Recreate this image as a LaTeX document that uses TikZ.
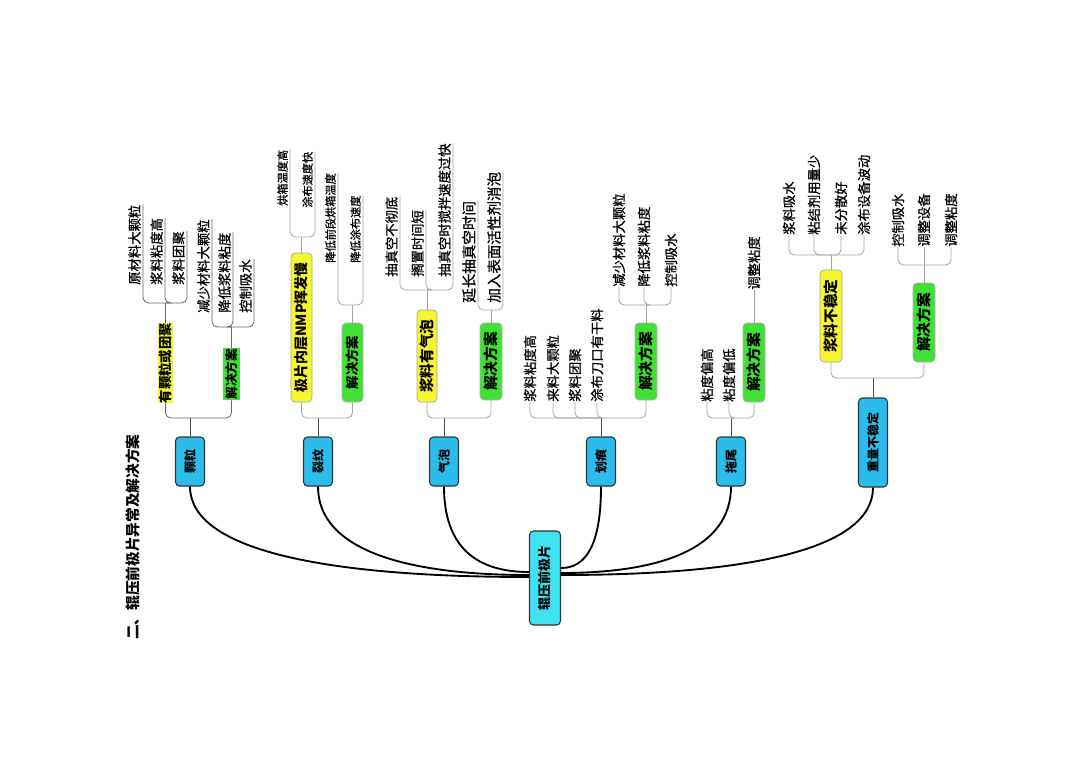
\documentclass[tikz,border=0pt]{standalone}
\usepackage{fontspec}
\setmainfont{Noto Sans CJK SC}
\newfontfamily\leaffont[FakeBold=0.8]{Noto Sans CJK SC}
\usepackage{graphicx}
\newcommand\vtxt[1]{\rotatebox{90}{#1}}
\definecolor{rootc}{RGB}{62,226,242}
\definecolor{catc}{RGB}{44,188,236}
\definecolor{yelc}{RGB}{246,246,48}
\definecolor{grnc}{RGB}{64,224,52}
\begin{document}
\begin{tikzpicture}[x=0.75pt,y=-0.75pt,
  sz/.style 2 args={minimum width=#1*0.75pt, minimum height=#2*0.75pt},
  rootbox/.style={draw=black!80, line width=0.8pt, fill=rootc, rounded corners=3pt, inner sep=0pt, font=\bfseries\fontsize{9.75}{10}\selectfont},
  catbox/.style={draw=black!80, line width=0.8pt, fill=catc, rounded corners=3pt, inner sep=0pt, font=\bfseries\fontsize{9}{10}\selectfont},
  ybox/.style={draw=black!35, line width=0.5pt, fill=yelc, rounded corners=3pt, inner sep=0pt, font=\bfseries\fontsize{11}{12}\selectfont},
  gbox/.style={draw=black!30, line width=0.5pt, fill=grnc, rounded corners=3pt, inner sep=0pt, font=\bfseries\fontsize{11}{12}\selectfont},
  yhl/.style={fill=yelc, inner sep=0pt, font=\bfseries\fontsize{10}{11}\selectfont},
  ghl/.style={fill=grnc, inner sep=0pt, font=\bfseries\fontsize{9.5}{11}\selectfont},
  leaf/.style={inner sep=0pt, font=\leaffont\fontsize{10}{12}\selectfont},
  title/.style={inner sep=0pt, font=\bfseries\fontsize{11}{12}\selectfont},
  main/.style={line width=1.4pt, black},
  stem/.style={line width=0.7pt, black!70},
  br/.style={line width=0.6pt, black!35, rounded corners=4pt},
  brd/.style={line width=0.6pt, black!60, rounded corners=4pt}]
\fill[white] (0,0) rectangle (1080,764);
\useasboundingbox (0,0) rectangle (1080,764);

% title
\node[title] (title) at (133,537) {\vtxt{二、辊压前极片异常及解决方案}};

% root and categories
\node[rootbox, sz={31}{94}] (root) at (545,578) {\vtxt{辊压前极片}};
\node[catbox, sz={29}{49}] (k1) at (190,461.5) {\vtxt{颗粒}};
\node[catbox, sz={29}{49}] (k2) at (318,461.5) {\vtxt{裂纹}};
\node[catbox, sz={29}{49}] (k3) at (444,461.5) {\vtxt{气泡}};
\node[catbox, sz={29}{49}] (k4) at (601,461.5) {\vtxt{划痕}};
\node[catbox, sz={29}{49}] (k5) at (731,461.5) {\vtxt{拖尾}};
\node[catbox, sz={29}{89}] (k6) at (873,442.5) {\vtxt{重量不稳定}};

\draw[main] (k1.south) .. controls +(0,64) and +(-203,0) .. ([yshift=0.75pt]root.west);
\draw[main] (k2.south) .. controls +(0,62) and +(-127,0) .. ([yshift=2.25pt]root.west);
\draw[main] (k3.south) .. controls +(0,62) and +(-51,0) .. ([yshift=4.5pt]root.west);
\draw[main] (k4.south) .. controls +(0,60) and +(24,0) .. ([yshift=7.5pt]root.east);
\draw[main] (k5.south) .. controls +(0,61) and +(102,0) .. ([yshift=3.75pt]root.east);
\draw[main] (k6.south) .. controls +(0,62) and +(187,0) .. ([yshift=2.25pt]root.east);

% second level boxes
\node[yhl, sz={15}{80}] (y1) at (165.5,363) {\vtxt{有颗粒或团聚}};
\node[ghl, sz={17}{52}] (g1) at (231.5,374) {\vtxt{解决方案}};
\node[ybox, sz={21}{149}, font=\bfseries\fontsize{10.5}{12}\selectfont] (y2) at (301.5,327.5) {\vtxt{极片内层NMP挥发慢}};
\node[gbox, sz={21}{79}, font=\bfseries\fontsize{10}{12}\selectfont] (g2) at (352.5,362.5) {\vtxt{解决方案}};
\node[ybox, sz={20}{92}] (y3) at (427,356) {\vtxt{浆料有气泡}};
\node[gbox, sz={22}{77}] (g3) at (491,361.5) {\vtxt{解决方案}};
\node[gbox, sz={22}{77}] (g4) at (646,361.5) {\vtxt{解决方案}};
\node[gbox, sz={22}{79}] (g5) at (754,362.5) {\vtxt{解决方案}};
\node[ybox, sz={22}{92}] (y6) at (831,316) {\vtxt{浆料不稳定}};
\node[gbox, sz={22}{79}] (g6) at (924,322.5) {\vtxt{解决方案}};

% junctions
\coordinate (j1) at (190,418);
\coordinate (j2) at (318,418);
\coordinate (j3) at (444,418);
\coordinate (j4) at (601,418);
\coordinate (j5) at (731,418);
\coordinate (j6) at (873,378);
\coordinate (jy1) at (165.5,303);
\coordinate (jg1) at (231.5,327);
\coordinate (jy2) at (301.5,237);
\coordinate (jg2) at (352.5,305);
\coordinate (jy3) at (427,290);
\coordinate (jg3) at (491,310);
\coordinate (jg4) at (646,305);
\coordinate (jy6) at (831,255);
\coordinate (jg6) at (924,265);

\draw[stem] (k1.north) -- (j1);
\draw[stem] (k2.north) -- (j2);
\draw[stem] (k3.north) -- (j3);
\draw[stem] (k4.north) -- (j4);
\draw[stem] (k5.north) -- (j5);
\draw[stem] (k6.north) -- (j6);

\draw[brd] (j1) -| (y1.south);
\draw[brd] (j1) -| (g1.south);
\draw[br] (j2) -| (y2.south);
\draw[br] (j2) -| (g2.south);
\draw[br] (j3) -| (y3.south);
\draw[br] (j3) -| (g3.south);
\draw[br] (j5) -| (g5.south);
\draw[br] (j6) -| (y6.south);
\draw[br] (j6) -| (g6.south);
\draw[br] (j4) -| (g4.south);

% group 1 leaves
\node[leaf, anchor=south east] (a1) at (141,285) {\vtxt{原材料大颗粒}};
\node[leaf, anchor=south east] (a2) at (163,285) {\vtxt{浆料粘度高}};
\node[leaf, anchor=south east] (a3) at (185,285) {\vtxt{浆料团聚}};
\draw[brd] (y1.north) -- (jy1);
\draw[brd] (jy1) -| ([xshift=1.5pt]a1.north east);
\draw[brd] (jy1) -| ([xshift=1.5pt]a2.north east);
\draw[brd] (jy1) -| ([xshift=1.5pt]a3.north east);
\node[leaf, anchor=south east] (b1) at (210,313) {\vtxt{减少材料大颗粒}};
\node[leaf, anchor=south east] (b2) at (231,313) {\vtxt{降低浆料粘度}};
\node[leaf, anchor=south east] (b3) at (252,313) {\vtxt{控制吸水}};
\draw[brd] (g1.north) -- (jg1);
\draw[brd] (jg1) -| ([xshift=1.5pt]b1.north east);
\draw[brd] (jg1) -| ([xshift=1.5pt]b2.north east);
\draw[brd] (jg1) -| ([xshift=1.5pt]b3.north east);

% group 2 leaves
\begin{scope}[leaf/.append style={font=\leaffont\fontsize{8.4}{9}\selectfont}]
\node[leaf, anchor=south east] (c1) at (288,206) {\vtxt{烘箱温度高}};
\node[leaf, anchor=south east] (c2) at (313,208) {\vtxt{涂布速度快}};
\node[leaf, anchor=south east] (d1) at (336,263) {\vtxt{降低前段烘箱温度}};
\node[leaf, anchor=south east] (d2) at (361,263) {\vtxt{降低涂布速度}};
\end{scope}
\draw[br] (y2.north) -- (jy2);
\draw[br] (jy2) -| ([xshift=1.5pt]c1.north east);
\draw[br] (jy2) -| ([xshift=1.5pt]c2.north east);
\draw[br] (g2.north) -- (jg2);
\draw[br] (jg2) -| ([xshift=1.5pt]d1.north east);
\draw[br] (jg2) -| ([xshift=1.5pt]d2.north east);

% group 3 leaves
\node[leaf, anchor=south east] (e1) at (398,277) {\vtxt{抽真空不彻底}};
\node[leaf, anchor=south east] (e2) at (424,277) {\vtxt{搁置时间短}};
\node[leaf, anchor=south east] (e3) at (451,277) {\vtxt{抽真空时搅拌速度过快}};
\draw[br] (y3.north) -- (jy3);
\draw[br] (jy3) -| ([xshift=1.5pt]e1.north east);
\draw[br] (jy3) -| ([xshift=1.5pt]e2.north east);
\draw[br] (jy3) -| ([xshift=1.5pt]e3.north east);
\begin{scope}[leaf/.append style={font=\leaffont\fontsize{10.9}{12}\selectfont}]
\node[leaf, anchor=south east] (f1) at (476,303) {\vtxt{延长抽真空时间}};
\node[leaf, anchor=south east] (f2) at (501,303) {\vtxt{加入表面活性剂消泡}};
\end{scope}
\draw[br] (g3.north) -- (jg3);
\draw[br] (jg3) -| ([xshift=1.5pt]f1.north east);
\draw[br] (jg3) -| ([xshift=1.5pt]f2.north east);

% group 4 leaves
\node[leaf, anchor=south] (h1) at (530,402) {\vtxt{浆料粘度高}};
\node[leaf, anchor=south] (h2) at (553,402) {\vtxt{来料大颗粒}};
\node[leaf, anchor=south] (h3) at (575,402) {\vtxt{浆料团聚}};
\node[leaf, anchor=south] (h4) at (597,402) {\vtxt{涂布刀口有干料}};
\draw[br] (j4) -| (h1.south);
\draw[br] (j4) -| (h2.south);
\draw[br] (j4) -| (h3.south);
\draw[br] (j4) -| (h4.south);
\node[leaf, anchor=south] (i1) at (619,287) {\vtxt{减少材料大颗粒}};
\node[leaf, anchor=south] (i2) at (644,287) {\vtxt{降低浆料粘度}};
\node[leaf, anchor=south] (i3) at (671,287) {\vtxt{控制吸水}};
\draw[br] (g4.north) -- (jg4);
\draw[br] (jg4) -| (i1.south);
\draw[br] (jg4) -| (i2.south);
\draw[br] (jg4) -| (i3.south);

% group 5 leaves
\node[leaf, anchor=south] (m1) at (707,402) {\vtxt{粘度偏高}};
\node[leaf, anchor=south] (m2) at (729,402) {\vtxt{粘度偏低}};
\draw[br] (j5) -| (m1.south);
\draw[br] (j5) -| (m2.south);
\node[leaf, anchor=south] (n1) at (754,290) {\vtxt{调整粘度}};
\draw[br] (g5.north) -- (n1.south);

% group 6 leaves
\node[leaf, anchor=south] (p1) at (789,235) {\vtxt{浆料吸水}};
\node[leaf, anchor=south] (p2) at (814,235) {\vtxt{粘结剂用量少}};
\node[leaf, anchor=south] (p3) at (841,235) {\vtxt{未分散好}};
\node[leaf, anchor=south] (p4) at (864,235) {\vtxt{涂布设备波动}};
\draw[br] (y6.north) -- (jy6);
\draw[br] (jy6) -| (p1.south);
\draw[br] (jy6) -| (p2.south);
\draw[br] (jy6) -| (p3.south);
\draw[br] (jy6) -| (p4.south);
\node[leaf, anchor=south] (q1) at (898,247) {\vtxt{控制吸水}};
\node[leaf, anchor=south] (q2) at (924,247) {\vtxt{调整设备}};
\node[leaf, anchor=south] (q3) at (951,247) {\vtxt{调整粘度}};
\draw[br] (g6.north) -- (jg6);
\draw[br] (jg6) -| (q1.south);
\draw[br] (jg6) -| (q2.south);
\draw[br] (jg6) -| (q3.south);
\end{tikzpicture}
\end{document}
